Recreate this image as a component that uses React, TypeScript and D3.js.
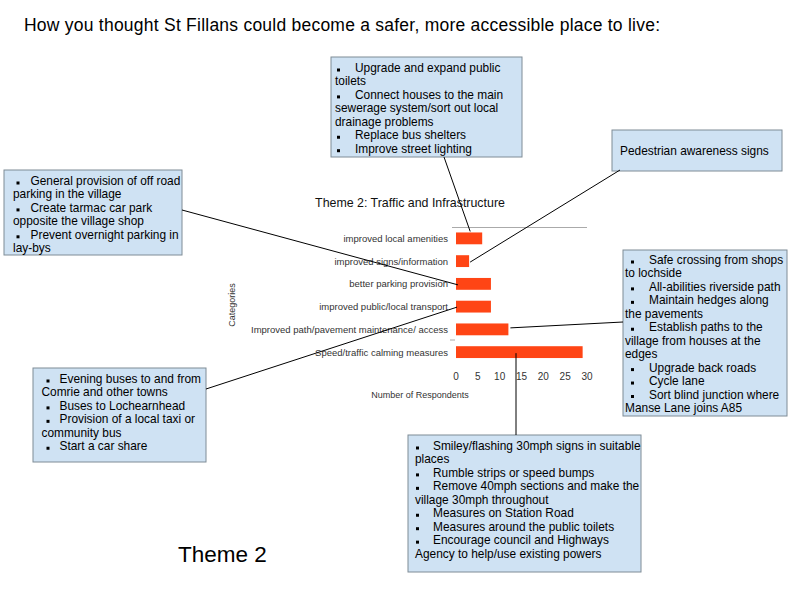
import * as d3 from 'd3'

// chart values
const categories = [
  'improved local amenities',
  'improved signs/information',
  'better parking provision',
  'improved public/local transport',
  'Improved path/pavement maintenance/ access',
  'Speed/traffic calming measures',
]
const respondents = [6, 3, 8, 8, 12, 29]
const xTicks = [0, 5, 10, 15, 20, 25, 30]

const FONT = 'Liberation Sans, Arial, sans-serif'

// callout boxes: each line starts with a bullet if it begins with '*'
// pad = [wrapped line x, bullet x, bulleted text x] offsets from box left
const boxes = [
  {
    x: 331, y: 57, w: 191, h: 100, top: 68, pad: [4, 6, 24],
    lines: ['*Upgrade and expand public', 'toilets', '*Connect houses to the main', 'sewerage system/sort out local', 'drainage problems', '*Replace bus shelters', '*Improve street lighting'],
  },
  { x: 612, y: 130, w: 170, h: 41, top: 151, pad: [8, 8, 8], lines: ['Pedestrian awareness signs'] },
  {
    x: 4, y: 170, w: 178, h: 85, top: 181, pad: [9, 12.5, 26.5],
    lines: ['*General provision of off road', 'parking in the village', '*Create tarmac car park', 'opposite the village shop', '*Prevent overnight parking in', 'lay-bys'],
  },
  {
    x: 623, y: 250, w: 164, h: 166, top: 260, pad: [2, 8, 26],
    lines: ['*Safe crossing from shops', 'to lochside', '*All-abilities riverside path', '*Maintain hedges along', 'the pavements', '*Establish paths to the', 'village from houses at the', 'edges', '*Upgrade back roads', '*Cycle lane', '*Sort blind junction where', 'Manse Lane joins A85'],
  },
  {
    x: 408, y: 435, w: 233, h: 137, top: 446, pad: [7, 8, 25],
    lines: ['*Smiley/flashing 30mph signs in suitable', 'places', '*Rumble strips or speed bumps', '*Remove 40mph sections and make the', 'village 30mph throughout', '*Measures on Station Road', '*Measures around the public toilets', '*Encourage council and Highways', 'Agency to help/use existing powers'],
  },
  {
    x: 33, y: 368, w: 173, h: 94, top: 379, pad: [8.5, 13.5, 26.5],
    lines: ['*Evening buses to and from', 'Comrie and other towns', '*Buses to Lochearnhead', '*Provision of a local taxi or', 'community bus', '*Start a car share'],
  },
]

const Box = ({ b }: { b: any }) => {
  const lh = 13.45
  return (
    <g>
      <rect x={b.x} y={b.y} width={b.w} height={b.h} fill="#cfe2f3" stroke="#7f8c96" strokeWidth={1} />
      <clipPath id={'clip' + b.x}>
        <rect x={b.x} y={b.y} width={b.w} height={b.h} />
      </clipPath>
      <g clipPath={`url(#clip${b.x})`}>
        {b.lines.map((l: string, i: number) => {
          const bullet = l.startsWith('*')
          const base = b.top + i * lh + 4
          return (
            <g key={i}>
              {bullet && <rect x={b.x + b.pad[1]} y={base - 3.5} width={3} height={3} fill="#000" />}
              <text x={b.x + (bullet ? b.pad[2] : b.pad[0])} y={base} fontSize={11.9} fontFamily={FONT} fill="#000">
                {bullet ? l.slice(1) : l}
              </text>
            </g>
          )
        })}
      </g>
    </g>
  )
}

export default function App() {
  const x = d3.scaleLinear().domain([0, 30]).range([456, 587])
  const y = d3.scaleBand().domain(categories).range([227, 363.5]).paddingInner(0.48).paddingOuter(0.24)
  const bw = y.bandwidth()
  const cy = (c: string) => (y(c) ?? 0) + bw / 2

  // connector lines from boxes to bars
  const links = [
    [444, 157, x(6) - 12, (y(categories[0]) ?? 0) - 1],
    [620, 170, x(3) + 1, cy(categories[1]) + 1],
    [182, 210, x(0) + 2, cy(categories[2]) + 1],
    [206, 389, x(0) + 1, cy(categories[3]) + 0.5],
    [x(12) + 2, cy(categories[4]) - 1.5, 623, 322],
    [516, cy(categories[5]) + 1, 516, 435],
  ]

  return (
    <svg width={794} height={595} style={{ position: 'absolute', left: 0, top: 0, background: '#fff' }}>
      <text x={24} y={31} fontSize={17.5} textLength={636} fontFamily={FONT} fill="#000">
        How you thought St Fillans could become a safer, more accessible place to live:
      </text>

      {/* chart */}
      <text x={410} y={207} textAnchor="middle" fontSize={12.4} fontFamily={FONT} fill="#111">
        Theme 2: Traffic and Infrastructure
      </text>
      <line x1={452} x2={587} y1={227.5} y2={227.5} stroke="#aaa" />
      <line x1={450} x2={455} y1={340} y2={340} stroke="#aaa" />
      {categories.map((c, i) => (
        <g key={c}>
          <rect x={x(0)} y={y(c)} width={x(respondents[i]) - x(0)} height={bw} fill="#ff4515" />
          <text x={448} y={cy(c) + 3.5} textAnchor="end" fontSize={9.5} fontFamily={FONT} fill="#333">
            {c}
          </text>
        </g>
      ))}
      {xTicks.map((t) => (
        <text key={t} x={x(t)} y={380} textAnchor="middle" fontSize={10} fontFamily={FONT} fill="#333">
          {t}
        </text>
      ))}
      <text x={420} y={398} textAnchor="middle" fontSize={9} fontFamily={FONT} fill="#333">
        Number of Respondents
      </text>
      <text transform="translate(235,305) rotate(-90)" textAnchor="middle" fontSize={9} fontFamily={FONT} fill="#333">
        Categories
      </text>

      {boxes.map((b, i) => (
        <Box key={i} b={b} />
      ))}

      {links.map((l, i) => (
        <line key={i} x1={l[0]} y1={l[1]} x2={l[2]} y2={l[3]} stroke="#000" strokeWidth={1} />
      ))}

      <text x={178} y={562} fontSize={22.5} fontFamily={FONT} fill="#000">
        Theme 2
      </text>
    </svg>
  )
}
